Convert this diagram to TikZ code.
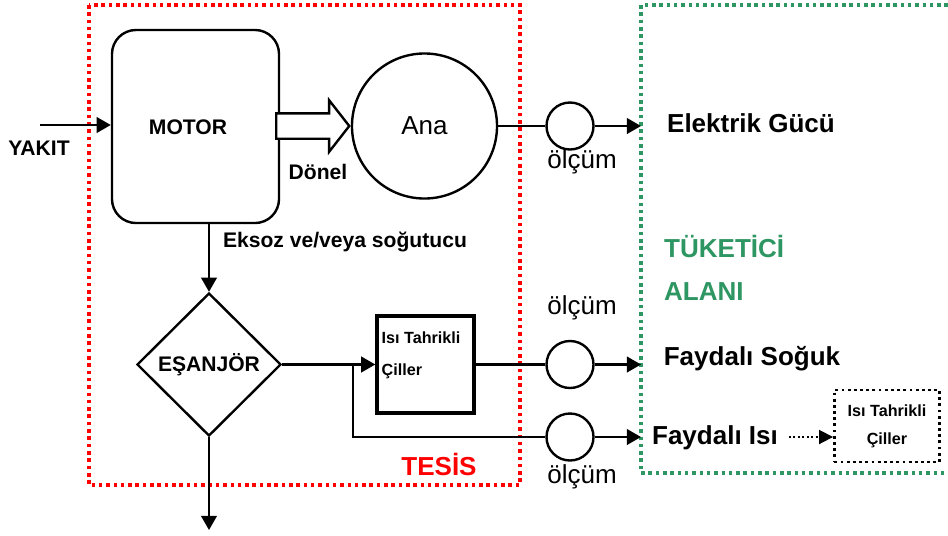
\documentclass[tikz,border=0pt]{standalone}
\usepackage{fontspec}
\setmainfont{Liberation Sans}
\usetikzlibrary{shapes.geometric,shapes.arrows,arrows.meta}
\definecolor{alangreen}{RGB}{46,150,98}

\begin{document}
\begin{tikzpicture}[
    x=0.025cm, y=-0.025cm,
    line width=1.7pt,
    motorbox/.style={
        draw,
        rectangle,
        rounded corners=0.6cm,
        minimum width=4.175cm,
        minimum height=4.825cm
    },
    genset/.style={
        draw,
        circle,
        minimum size=3.625cm,
        inner sep=0pt,
        font=\fontsize{18.5}{22}\selectfont
    },
    meter/.style={
        draw,
        circle,
        minimum size=1.175cm,
        inner sep=0pt
    },
    hex/.style={
        draw,
        diamond,
        minimum width=3.6cm,
        minimum height=3.575cm,
        inner sep=0pt,
        font=\fontsize{15}{18}\selectfont\bfseries
    },
    chillerbox/.style={
        draw,
        rectangle,
        line width=2.4pt,
        minimum size=2.425cm
    },
    userbox/.style={
        draw,
        rectangle,
        line width=2pt,
        dash pattern=on 2pt off 2.4pt,
        minimum width=2.625cm,
        minimum height=1.8cm,
        align=center,
        font=\fontsize{11.5}{20}\selectfont\bfseries
    },
    rotarrow/.style={
        draw,
        single arrow,
        fill=white,
        minimum height=1.825cm,
        inner xsep=0pt,
        inner ysep=0.2875cm,
        single arrow head extend=0.325cm,
        single arrow tip angle=104
    },
    conn/.style={
        draw,
        -{Triangle[length=10pt,width=11pt]}
    },
    dotconn/.style={
        draw,
        line width=1.2pt,
        dash pattern=on 1.2pt off 2pt,
        -{Triangle[length=10pt,width=10pt]}
    },
    tesisframe/.style={
        draw=red,
        line width=2.5pt,
        dash pattern=on 2.5pt off 2.7pt
    },
    alanframe/.style={
        draw=alangreen,
        line width=2.5pt,
        dash pattern=on 2.5pt off 2.7pt
    },
    bigtxt/.style={inner sep=0pt, font=\fontsize{18.5}{22}\selectfont\bfseries},
    midtxt/.style={inner sep=0pt, font=\fontsize{15}{18}\selectfont\bfseries},
    regtxt/.style={inner sep=0pt, font=\fontsize{18.5}{22}\selectfont},
    smalltxt/.style={inner sep=0pt, align=left, font=\fontsize{11.5}{22.8}\selectfont\bfseries}
]
    \useasboundingbox (0,0) rectangle (948,535);

    % --- Frames ---
    \draw [tesisframe] (89,5) rectangle (520,485);
    \draw [alanframe] (948,5) -- (641,5) -- (641,473) -- (948,473);
    \coordinate (alan) at (641,5);

    % --- Nodes ---

    % Engine and generator
    \node [motorbox] (motor) at (195.5,126.5) {};
    \node [midtxt] (motortxt) at (188,127) {MOTOR};
    \node [genset] (ana) at (424.5,126) {Ana};
    \node [rotarrow, anchor=tip] (rot) at (ana.west) {};
    \node [midtxt] (donel) at (318,172) {Dönel};
    \coordinate (fuel) at (40,125);
    \node [midtxt] (yakit) at (39,148) {YAKIT};

    % Heat recovery
    \node [hex] (esan) at (209,364.5) {EŞANJÖR};
    \node [midtxt] (eksoz) at (345,242) {Eksoz ve/veya soğutucu};
    \node [chillerbox] (chiller) at (425.5,364.5) {};
    \node [smalltxt] (chillertxt) at (421,355) {Isı Tahrikli\\Çiller};
    \coordinate (branch) at (353,364.5);
    \coordinate (exit) at (209,530);
    \node [bigtxt, text=red] (tesis) at (439,464) {TESİS};

    % Meters
    \node [meter] (meter1) at (570,126) {};
    \node [meter] (meter2) at (570,364.5) {};
    \node [meter] (meter3) at (570,437) {};
    \node [regtxt] (olcum1) at (582,162) {ölçüm};
    \node [regtxt] (olcum2) at (582,308) {ölçüm};
    \node [regtxt] (olcum3) at (582,477) {ölçüm};

    % Consumer side
    \node [bigtxt] (elec) at (751,123) {Elektrik Gücü};
    \node [bigtxt, text=alangreen, anchor=west] (tuketici) at (663,246) {TÜKETİCİ};
    \node [bigtxt, text=alangreen, anchor=west] (alani) at (663,292) {ALANI};
    \node [bigtxt] (cold) at (752,359) {Faydalı Soğuk};
    \node [bigtxt, inner xsep=7pt] (heat) at (715,438) {Faydalı Isı};
    \node [userbox] (userchiller) at (887,426) {Isı Tahrikli\\Çiller};

    % --- Connections ---
    \path [conn] (fuel) -- (fuel -| motor.west);
    \path [conn] (esan.north |- motor.south) -- (esan.north);
    \path [conn] (esan.south) -- (exit);

    % Power line
    \draw (ana.east) -- (meter1.west);
    \path [conn] (meter1.east) -- (meter1.east -| alan);

    % Cooling line
    \path [conn] (esan.east) -- (chiller.west);
    \draw (chiller.east) -- (meter2.west);
    \path [conn] (meter2.east) -- (meter2.east -| alan);

    % Heat line
    \draw (branch) |- (meter3.west);
    \path [conn] (meter3.east) -- (meter3.east -| alan);
    \path [dotconn] (heat.east |- meter3.east) -- (heat.east |- meter3.east -| userchiller.west);

\end{tikzpicture}
\end{document}
